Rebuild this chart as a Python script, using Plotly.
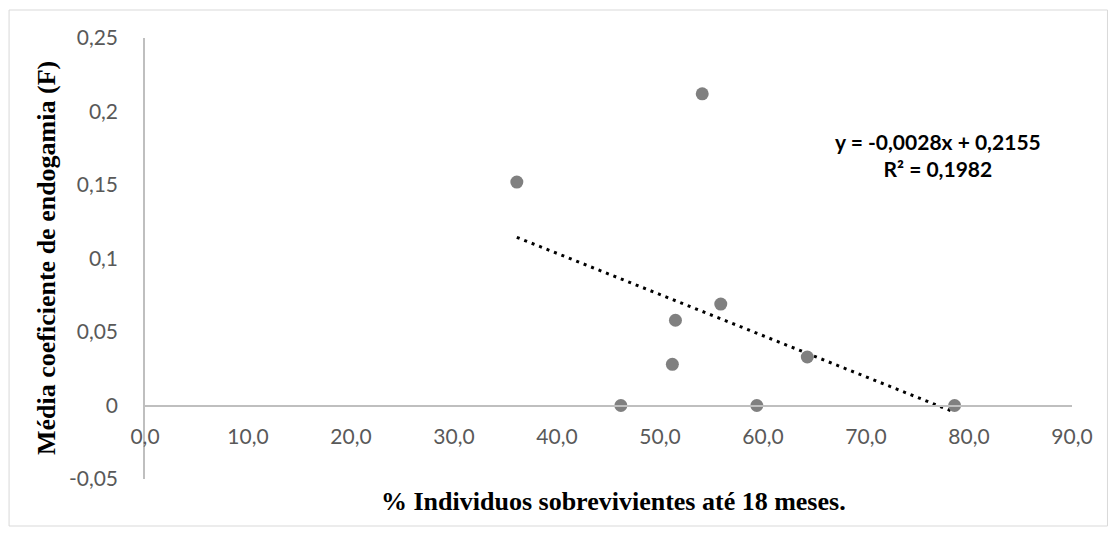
import plotly.graph_objects as go

# Survival (%) vs mean inbreeding coefficient per group
survival_pct = [36.1, 54.1, 55.9, 51.5, 51.2, 46.2, 59.4, 64.3, 78.6]
inbreeding_f = [0.152, 0.212, 0.069, 0.058, 0.028, 0.0, 0.0, 0.033, 0.0]

# Linear trendline as reported in the equation label
slope = -0.0028
intercept = 0.2155
r_squared = 0.1982

x_tickvals = [0, 10, 20, 30, 40, 50, 60, 70, 80, 90]
x_ticktext = ["0,0", "10,0", "20,0", "30,0", "40,0", "50,0", "60,0", "70,0", "80,0", "90,0"]
y_tickvals = [-0.05, 0, 0.05, 0.1, 0.15, 0.2, 0.25]
y_ticktext = ["-0,05", "0", "0,05", "0,1", "0,15", "0,2", "0,25"]

x_title = "% Individuos sobrevivientes até 18 meses."
y_title = "Média coeficiente de endogamia (F)"


def fmt(v, nd):
    return f"{v:.{nd}f}".replace(".", ",")


eq_text = (f"y = {fmt(slope, 4)}x + {fmt(intercept, 4)}<br>"
           f"R² = {fmt(r_squared, 4)}")

W, H = 1117, 536
ML, MR, MT, MB = 145, 44.5, 38, 57
PW, PH = W - ML - MR, H - MT - MB


def px_x(px):
    return (px - ML) / PW


def px_y(py):
    return (H - MB - py) / PH


y_min, y_max = -0.05, 0.25

fig = go.Figure()

trend_x = [min(survival_pct), max(survival_pct)]
trend_y = [slope * v + intercept for v in trend_x]
fig.add_trace(go.Scatter(
    x=trend_x, y=trend_y, mode="lines",
    line=dict(color="black", width=3, dash="3px,5px"),
    hoverinfo="skip", showlegend=False,
))

fig.add_trace(go.Scatter(
    x=survival_pct, y=inbreeding_f, mode="markers",
    marker=dict(color="#808080", size=13, line=dict(width=0)),
    showlegend=False,
))

axis_grey = "#bfbfbf"
tick_font = dict(family="Lato", size=21, color="#595959")
title_font = dict(family="Liberation Serif", size=26, color="black", weight="bold")

fig.update_layout(
    template="none",
    width=W, height=H,
    margin=dict(l=ML, r=MR, t=MT, b=MB, pad=0),
    paper_bgcolor="white", plot_bgcolor="white",
    showlegend=False,
    xaxis=dict(
        range=[0, 90], tickvals=x_tickvals, ticktext=x_ticktext,
        showgrid=False, zeroline=False, showline=True,
        linecolor=axis_grey, linewidth=1.5,
        ticks="", tickfont=tick_font,
        anchor="free", position=(0 - y_min) / (y_max - y_min),
        ticklabelstandoff=13, automargin=False,
    ),
    yaxis=dict(
        range=[y_min, y_max], tickvals=y_tickvals, ticktext=y_ticktext,
        showgrid=False, zeroline=False, showline=True,
        linecolor=axis_grey, linewidth=1.5,
        ticks="", tickfont=tick_font,
        ticklabelstandoff=21, automargin=False,
    ),
    shapes=[dict(
        type="rect", xref="paper", yref="paper",
        x0=px_x(9), x1=px_x(1108), y0=px_y(526), y1=px_y(10),
        line=dict(color="#d9d9d9", width=1), fillcolor="rgba(0,0,0,0)",
        layer="below",
    )],
    annotations=[
        dict(text=y_title, xref="paper", yref="paper",
             x=px_x(46), y=px_y(258), xanchor="center", yanchor="middle",
             textangle=-90, showarrow=False, font=title_font),
        dict(text=x_title, xref="paper", yref="paper",
             x=px_x(614), y=px_y(502), xanchor="center", yanchor="middle",
             showarrow=False, font=title_font),
        dict(text=eq_text, xref="paper", yref="paper",
             x=px_x(938), y=px_y(154.5), xanchor="center", yanchor="middle",
             align="center", showarrow=False,
             font=dict(family="Lato", size=21, color="black", weight="bold")),
    ],
)

fig.write_html("out.html")
